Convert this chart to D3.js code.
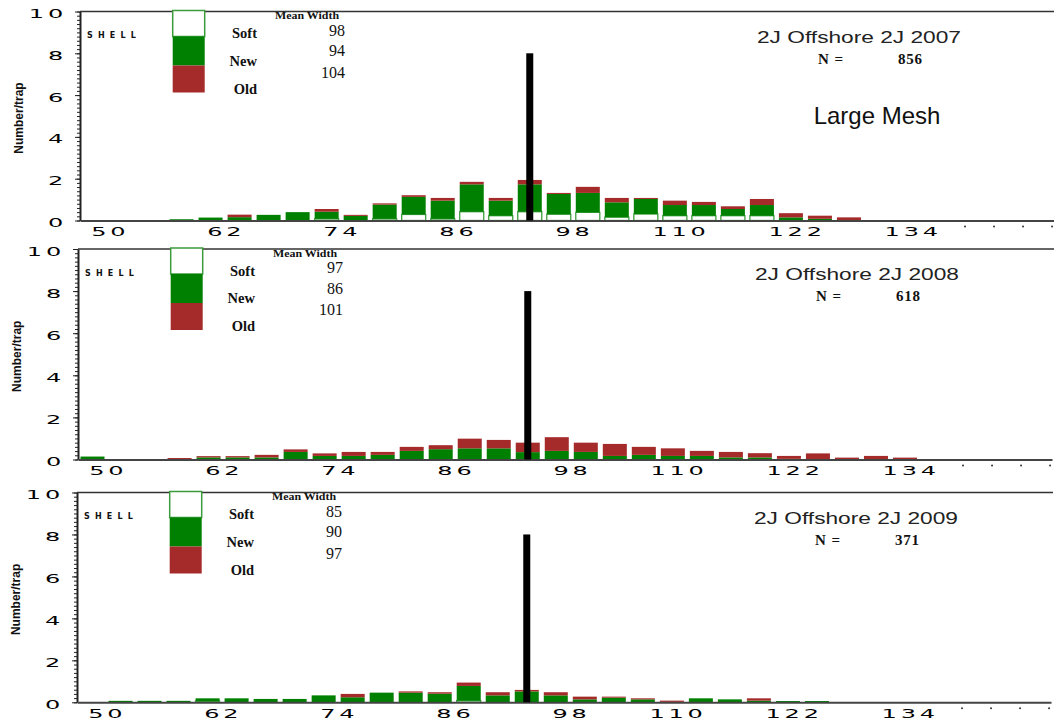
<!DOCTYPE html>
<html><head><meta charset="utf-8">
<script src="https://cdn.jsdelivr.net/npm/d3@7"></script>
<style>body{margin:0;background:#fff} svg{display:block}</style>
</head><body>
<svg id="chart" width="1054" height="723"></svg>
<script>
// ---- data ----
const categories = [49,52,55,58,61,64,67,70,73,76,79,82,85,88,91,94,97,100,103,106,109,112,115,118,121,124,127,130,133];
const xTickLabels = [50,62,74,86,98,110,122,134];
const yTickLabels = [0,2,4,6,8,10];
const extraDots = [139,142,145,148];

const soft2007 = [0,0,0,0,0,0,0,0,0.08,0,0.08,0.29,0.08,0.42,0.23,0.42,0.30,0.39,0.16,0.31,0.23,0.23,0.23,0.23,0,0,0,0,0];
const new2007  = [0,0,0,0.06,0.14,0.16,0.27,0.40,0.34,0.22,0.68,0.84,0.87,1.31,0.72,1.31,0.97,0.93,0.71,0.72,0.51,0.51,0.32,0.51,0.15,0.08,0,0,0];
const old2007  = [0,0,0,0,0,0.12,0,0,0.13,0.05,0.06,0.08,0.13,0.12,0.13,0.21,0.05,0.29,0.21,0.05,0.21,0.15,0.13,0.29,0.20,0.15,0.15,0,0];

const soft2008 = [0,0,0,0,0,0,0,0,0,0,0,0,0,0,0,0,0,0,0,0,0,0,0,0,0,0,0,0,0];
const new2008  = [0.14,0,0,0,0.10,0.10,0.10,0.36,0.17,0.17,0.22,0.41,0.49,0.53,0.53,0.35,0.41,0.36,0.17,0.22,0.17,0.17,0.10,0.10,0.03,0,0,0,0];
const old2008  = [0,0,0,0.07,0.06,0.06,0.12,0.12,0.12,0.19,0.14,0.19,0.19,0.46,0.40,0.45,0.65,0.44,0.57,0.38,0.36,0.24,0.26,0.20,0.14,0.29,0.09,0.17,0.09];

const soft2009 = [0,0,0,0,0.06,0,0,0,0,0,0,0,0,0.08,0,0,0,0,0,0,0,0,0,0,0,0,0,0,0];
const new2009  = [0,0.07,0.07,0.07,0.13,0.19,0.16,0.16,0.33,0.24,0.46,0.46,0.41,0.70,0.33,0.52,0.33,0.14,0.22,0.14,0.02,0.19,0.14,0.08,0.06,0.06,0,0,0];
const old2009  = [0,0,0,0,0,0,0,0,0,0.16,0,0.06,0.07,0.16,0.15,0.07,0.15,0.13,0.05,0.05,0.06,0,0,0.11,0,0,0,0,0];

const titles = ["2J Offshore 2J 2007","2J Offshore 2J 2008","2J Offshore 2J 2009"];
const counts = [856, 618, 371];
const meanSoft = [98, 97, 85];
const meanNew  = [94, 86, 90];
const meanOld  = [104, 101, 97];
const legendLabels = ["Soft","New","Old"];
const markerValue = 94;
const markerHeight = 8;

// ---- layout ----
const svg = d3.select("#chart");
const x = d3.scaleLinear().domain([47.5, 148.2]).range([80, 1054]);
const keys = ["soft","new","old"];
const fills = {soft:"#ffffff", new:"#008000", old:"#a52a2a"};
const panelTops  = [11.5, 249, 492.5];
const panelBases = [220.5, 459.5, 702.3];
const panelDx    = [0, -2, -3];
const softArr = [soft2007, soft2008, soft2009];
const newArr  = [new2007, new2008, new2009];
const oldArr  = [old2007, old2008, old2009];

function wide(sel){
  return sel.attr("font-family","DejaVu Sans").attr("font-size",12)
    .attr("letter-spacing",1.9).attr("fill","#000");
}

titles.forEach((title, pi) => {
  const t = panelTops[pi], b = panelBases[pi];
  const g = svg.append("g").attr("transform", `translate(${panelDx[pi]},0)`);
  const y = d3.scaleLinear().domain([0,10]).range([b, t]);

  // bars
  const rows = categories.map((c,i) => ({mid:c, soft:softArr[pi][i], new:newArr[pi][i], old:oldArr[pi][i]}));
  const series = d3.stack().keys(keys)(rows);
  g.append("g").selectAll("g").data(series).join("g")
    .attr("fill", d => fills[d.key])
    .attr("stroke", d => d.key === "soft" ? "#3c9c3c" : "none")
    .attr("stroke-width", 1.3)
    .selectAll("rect").data(d => d.filter(s => s[1] - s[0] > 0)).join("rect")
    .attr("x", d => x(d.data.mid - 1.5) + 2.5)
    .attr("width", d => x(d.data.mid + 1.5) - x(d.data.mid - 1.5) - 5)
    .attr("y", d => y(d[1]))
    .attr("height", d => y(d[0]) - y(d[1]));

  // top frame line
  g.append("line").attr("x1", x(47.5)).attr("x2", 1056).attr("y1", y(10)).attr("y2", y(10))
    .attr("stroke","#333").attr("stroke-width",1.5);

  // y axis minor & major
  const ax = x(47.5);
  g.append("g").attr("transform",`translate(${ax},0)`)
    .call(d3.axisLeft(y).tickValues(d3.range(0,51).map(i => i/5)).tickSize(3).tickSizeOuter(0).tickFormat(""))
    .call(s => s.selectAll("line").attr("stroke","#222"))
    .call(s => s.select(".domain").attr("stroke","#222").attr("stroke-width",2));
  const yAx = g.append("g").attr("transform",`translate(${ax},0)`)
    .call(d3.axisLeft(y).tickValues(yTickLabels).tickSize(5).tickSizeOuter(0).tickFormat(d => d))
    .call(s => s.select(".domain").remove());
  yAx.selectAll("line").attr("stroke","#222");
  yAx.selectAll("text").call(wide).attr("text-anchor","end")
    .attr("x", -6.5).attr("dy", 6).attr("transform","scale(2,1)");

  // x axis
  const xAx = g.append("g").attr("transform",`translate(0,${b})`)
    .call(d3.axisBottom(x).tickValues(xTickLabels).tickSize(0).tickSizeOuter(0).tickFormat(d => d));
  xAx.select(".domain").attr("stroke","#444").attr("stroke-width",2);
  xAx.selectAll("text").call(wide).attr("text-anchor","end")
    .attr("x", 12.3).attr("y", 16).attr("dy", 0).attr("transform","scale(2,1)");
  g.append("g").selectAll("circle").data(extraDots).join("circle")
    .attr("cx", d => x(d)).attr("cy", b + 6).attr("r", 1).attr("fill","#333");

  // marker line
  g.append("rect").attr("x", x(markerValue) - 3.5).attr("width", 7)
    .attr("y", y(markerHeight)).attr("height", y(0) - y(markerHeight)).attr("fill","#000");

  // y title
  g.append("text").attr("transform",`translate(19,${(t+b)/2 + 2}) rotate(-90)`)
    .attr("text-anchor","middle").attr("dominant-baseline","central")
    .attr("font-family","Liberation Sans").attr("font-weight","bold").attr("font-size",12)
    .attr("fill","#111").text("Number/trap");

  // SHELL
  g.append("text").attr("x",87).attr("y",t+26.5).attr("font-family","DejaVu Sans")
    .attr("font-weight","bold").attr("font-size",8).attr("letter-spacing",5.2)
    .attr("fill","#111").text("SHELL");

  // legend box
  const segs = [[t-1, t+25, fills.soft], [t+25, t+54, fills.new], [t+54, t+81, fills.old]];
  g.append("g").selectAll("rect").data(segs).join("rect")
    .attr("x",172.7).attr("width",32).attr("y",d=>d[0]).attr("height",d=>d[1]-d[0])
    .attr("fill",d=>d[2]).attr("stroke",(d,i)=> i===0 ? "#3c9c3c" : "none").attr("stroke-width",1.5);

  // legend labels
  const labY = [t+26.5, t+54, t+82];
  g.append("g").selectAll("text").data(legendLabels).join("text")
    .attr("x",257).attr("y",(d,i)=>labY[i]).attr("text-anchor","end")
    .attr("font-family","Liberation Serif").attr("font-weight","bold").attr("font-size",14.5)
    .attr("fill","#111").text(d=>d);

  g.append("text").attr("x",307).attr("y",t+7.5).attr("text-anchor","middle")
    .attr("font-family","Liberation Serif").attr("font-weight","bold").attr("font-size",10)
    .attr("textLength",64).attr("lengthAdjust","spacingAndGlyphs")
    .attr("fill","#111").text("Mean Width");
  const vals = [meanSoft[pi], meanNew[pi], meanOld[pi]];
  const valY = [t+24, t+44.5, t+66];
  g.append("g").selectAll("text").data(vals).join("text")
    .attr("x",345).attr("y",(d,i)=>valY[i]).attr("text-anchor","end")
    .attr("font-family","Liberation Serif").attr("font-size",16)
    .attr("fill","#111").text(d=>d);

  // title and N
  g.append("text").attr("x",859).attr("y",t+31).attr("text-anchor","middle")
    .attr("font-family","Liberation Sans").attr("font-size",17)
    .attr("textLength",204).attr("lengthAdjust","spacingAndGlyphs")
    .attr("fill","#222").text(title);
  g.append("text").attr("x",818).attr("y",t+52).attr("font-family","Liberation Serif")
    .attr("font-weight","bold").attr("font-size",15).attr("letter-spacing",1).attr("fill","#111").text("N =");
  g.append("text").attr("x",898).attr("y",t+52).attr("font-family","Liberation Serif")
    .attr("font-weight","bold").attr("font-size",15).attr("letter-spacing",0.8).attr("fill","#111").text(counts[pi]);

  if (pi === 0) {
    g.append("text").attr("x",877).attr("y",124).attr("text-anchor","middle")
      .attr("font-family","Liberation Sans").attr("font-size",24).attr("fill","#111").text("Large Mesh");
  }
});
</script>
</body></html>
